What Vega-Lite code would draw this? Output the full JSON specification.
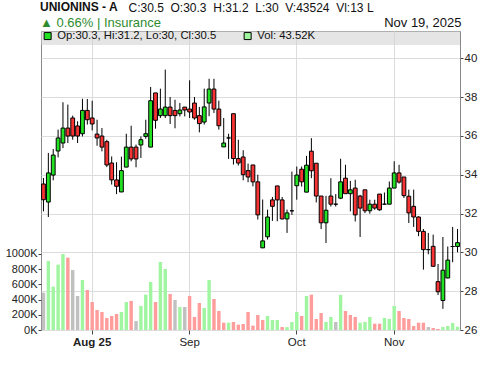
{
  "$schema": "https://vega.github.io/schema/vega-lite/v6.json",
  "width": 419,
  "height": 299,
  "autosize": "none",
  "padding": {"left": 41, "top": 31, "right": 40, "bottom": 36},
  "background": "white",
  "config": {
    "font": "Liberation Sans",
    "view": {"stroke": "#888", "strokeWidth": 1},
    "axis": {"labelFont": "Liberation Sans", "labelFontSize": 11, "labelColor": "#222", "gridColor": "#dcdcdc", "gridWidth": 1, "tickColor": "#444", "tickSize": 3, "domain": false, "titleFont": "Liberation Sans"}
  },
  "title": {
    "text": "UNIONINS - A",
    "subtitle": "▲ 0.66% | Insurance",
    "anchor": "start",
    "frame": "group",
    "orient": "top",
    "offset": 4,
    "dx": -1,
    "dy": 34,
    "font": "Liberation Sans",
    "fontSize": 12,
    "fontWeight": "bold",
    "color": "#111",
    "subtitleFont": "Liberation Sans",
    "subtitleFontSize": 13,
    "subtitleColor": "#2e8b2e",
    "subtitlePadding": 3
  },
  "data": {"values": [
    {"d": "2025-07-18", "o": 33.52, "h": 33.83, "l": 32.11, "c": 32.71, "v": 491000, "dir": "flat"},
    {"d": "2025-07-21", "o": 32.59, "h": 35.12, "l": 31.82, "c": 34.09, "v": 908000, "dir": "up"},
    {"d": "2025-07-22", "o": 33.98, "h": 35.32, "l": 33.71, "c": 35.01, "v": 570000, "dir": "up"},
    {"d": "2025-07-23", "o": 35.22, "h": 36.32, "l": 34.89, "c": 35.89, "v": 860000, "dir": "up"},
    {"d": "2025-07-24", "o": 35.63, "h": 37.73, "l": 35.37, "c": 36.40, "v": 1000000, "dir": "up"},
    {"d": "2025-07-25", "o": 36.40, "h": 37.61, "l": 35.63, "c": 35.99, "v": 952000, "dir": "down"},
    {"d": "2025-07-28", "o": 36.92, "h": 37.04, "l": 35.80, "c": 35.99, "v": 789000, "dir": "flat"},
    {"d": "2025-07-29", "o": 36.51, "h": 36.75, "l": 35.63, "c": 35.99, "v": 447000, "dir": "flat"},
    {"d": "2025-07-30", "o": 36.11, "h": 37.91, "l": 35.97, "c": 37.31, "v": 658000, "dir": "up"},
    {"d": "2025-07-31", "o": 37.31, "h": 37.90, "l": 36.58, "c": 36.83, "v": 526000, "dir": "down"},
    {"d": "2025-08-01", "o": 36.92, "h": 37.81, "l": 36.28, "c": 36.61, "v": 368000, "dir": "down"},
    {"d": "2025-08-04", "o": 36.09, "h": 36.83, "l": 35.49, "c": 35.89, "v": 263000, "dir": "down"},
    {"d": "2025-08-05", "o": 35.99, "h": 36.40, "l": 35.20, "c": 35.42, "v": 237000, "dir": "down"},
    {"d": "2025-08-06", "o": 35.70, "h": 35.80, "l": 34.39, "c": 34.50, "v": 158000, "dir": "down"},
    {"d": "2025-08-07", "o": 34.60, "h": 34.94, "l": 33.49, "c": 33.73, "v": 184000, "dir": "down"},
    {"d": "2025-08-08", "o": 33.73, "h": 34.64, "l": 33.00, "c": 33.40, "v": 211000, "dir": "down"},
    {"d": "2025-08-11", "o": 33.11, "h": 34.93, "l": 33.11, "c": 34.21, "v": 237000, "dir": "up"},
    {"d": "2025-08-12", "o": 34.39, "h": 36.11, "l": 34.39, "c": 35.42, "v": 368000, "dir": "up"},
    {"d": "2025-08-13", "o": 35.42, "h": 36.52, "l": 34.69, "c": 34.81, "v": 382000, "dir": "down"},
    {"d": "2025-08-14", "o": 35.42, "h": 35.55, "l": 34.38, "c": 34.81, "v": 118000, "dir": "flat"},
    {"d": "2025-08-18", "o": 35.53, "h": 35.97, "l": 34.86, "c": 35.80, "v": 316000, "dir": "up"},
    {"d": "2025-08-19", "o": 35.97, "h": 36.83, "l": 35.85, "c": 36.11, "v": 465000, "dir": "up"},
    {"d": "2025-08-20", "o": 35.42, "h": 38.52, "l": 35.42, "c": 37.81, "v": 632000, "dir": "up"},
    {"d": "2025-08-21", "o": 38.21, "h": 38.21, "l": 36.37, "c": 36.80, "v": 368000, "dir": "down"},
    {"d": "2025-08-22", "o": 37.04, "h": 38.43, "l": 36.92, "c": 37.38, "v": 895000, "dir": "up"},
    {"d": "2025-08-25", "o": 37.04, "h": 39.41, "l": 36.92, "c": 37.48, "v": 803000, "dir": "up"},
    {"d": "2025-08-26", "o": 37.48, "h": 38.00, "l": 36.61, "c": 37.04, "v": 474000, "dir": "down"},
    {"d": "2025-08-27", "o": 37.31, "h": 37.86, "l": 36.39, "c": 37.04, "v": 395000, "dir": "flat"},
    {"d": "2025-08-28", "o": 37.14, "h": 37.69, "l": 37.00, "c": 37.33, "v": 303000, "dir": "up"},
    {"d": "2025-08-29", "o": 37.48, "h": 37.48, "l": 37.00, "c": 37.33, "v": 303000, "dir": "flat"},
    {"d": "2025-09-01", "o": 37.38, "h": 38.86, "l": 36.92, "c": 37.23, "v": 447000, "dir": "down"},
    {"d": "2025-09-02", "o": 37.69, "h": 38.00, "l": 36.83, "c": 36.92, "v": 171000, "dir": "down"},
    {"d": "2025-09-03", "o": 37.04, "h": 37.49, "l": 36.18, "c": 36.63, "v": 355000, "dir": "down"},
    {"d": "2025-09-04", "o": 36.71, "h": 38.43, "l": 36.58, "c": 37.49, "v": 289000, "dir": "up"},
    {"d": "2025-09-05", "o": 37.69, "h": 38.94, "l": 37.01, "c": 38.41, "v": 658000, "dir": "up"},
    {"d": "2025-09-08", "o": 38.41, "h": 38.94, "l": 37.18, "c": 37.38, "v": 408000, "dir": "down"},
    {"d": "2025-09-09", "o": 37.38, "h": 37.81, "l": 36.32, "c": 36.52, "v": 250000, "dir": "down"},
    {"d": "2025-09-10", "o": 35.43, "h": 36.92, "l": 35.43, "c": 35.63, "v": 96000, "dir": "down"},
    {"d": "2025-09-11", "o": 35.89, "h": 36.11, "l": 34.81, "c": 35.89, "v": 96000, "dir": "up"},
    {"d": "2025-09-12", "o": 37.14, "h": 37.14, "l": 34.52, "c": 34.83, "v": 105000, "dir": "down"},
    {"d": "2025-09-15", "o": 34.83, "h": 35.80, "l": 34.47, "c": 34.60, "v": 70000, "dir": "down"},
    {"d": "2025-09-16", "o": 34.91, "h": 35.26, "l": 33.71, "c": 34.00, "v": 79000, "dir": "down"},
    {"d": "2025-09-17", "o": 34.21, "h": 34.57, "l": 33.61, "c": 33.88, "v": 237000, "dir": "down"},
    {"d": "2025-09-18", "o": 34.50, "h": 34.50, "l": 33.40, "c": 33.63, "v": 57000, "dir": "down"},
    {"d": "2025-09-19", "o": 33.63, "h": 34.00, "l": 31.69, "c": 31.93, "v": 197000, "dir": "down"},
    {"d": "2025-09-22", "o": 30.23, "h": 32.72, "l": 30.23, "c": 30.59, "v": 132000, "dir": "down"},
    {"d": "2025-09-23", "o": 30.80, "h": 32.20, "l": 30.66, "c": 31.82, "v": 184000, "dir": "up"},
    {"d": "2025-09-24", "o": 32.70, "h": 32.85, "l": 31.62, "c": 32.37, "v": 132000, "dir": "up"},
    {"d": "2025-09-25", "o": 33.42, "h": 33.42, "l": 31.60, "c": 32.70, "v": 132000, "dir": "up"},
    {"d": "2025-09-26", "o": 32.70, "h": 32.85, "l": 31.70, "c": 31.72, "v": 39000, "dir": "down"},
    {"d": "2025-09-29", "o": 31.72, "h": 32.20, "l": 31.00, "c": 32.03, "v": 39000, "dir": "up"},
    {"d": "2025-09-30", "o": 32.14, "h": 34.16, "l": 31.93, "c": 32.14, "v": 105000, "dir": "up"},
    {"d": "2025-10-01", "o": 33.43, "h": 34.42, "l": 32.71, "c": 33.98, "v": 237000, "dir": "up"},
    {"d": "2025-10-03", "o": 34.28, "h": 34.42, "l": 33.39, "c": 33.63, "v": 184000, "dir": "down"},
    {"d": "2025-10-06", "o": 33.10, "h": 34.97, "l": 33.10, "c": 34.49, "v": 447000, "dir": "up"},
    {"d": "2025-10-07", "o": 35.21, "h": 35.88, "l": 33.82, "c": 34.20, "v": 465000, "dir": "down"},
    {"d": "2025-10-08", "o": 34.59, "h": 34.59, "l": 32.57, "c": 32.90, "v": 145000, "dir": "down"},
    {"d": "2025-10-09", "o": 32.90, "h": 32.90, "l": 31.20, "c": 31.52, "v": 224000, "dir": "down"},
    {"d": "2025-10-10", "o": 31.52, "h": 32.91, "l": 30.48, "c": 32.17, "v": 105000, "dir": "up"},
    {"d": "2025-10-13", "o": 32.90, "h": 33.82, "l": 32.36, "c": 32.48, "v": 171000, "dir": "up"},
    {"d": "2025-10-14", "o": 32.48, "h": 33.00, "l": 32.36, "c": 32.48, "v": 105000, "dir": "flat"},
    {"d": "2025-10-15", "o": 32.79, "h": 34.82, "l": 32.74, "c": 33.63, "v": 461000, "dir": "up"},
    {"d": "2025-10-16", "o": 33.82, "h": 34.51, "l": 33.02, "c": 33.02, "v": 250000, "dir": "down"},
    {"d": "2025-10-17", "o": 33.02, "h": 33.68, "l": 32.11, "c": 33.22, "v": 197000, "dir": "down"},
    {"d": "2025-10-20", "o": 33.31, "h": 33.74, "l": 31.59, "c": 31.93, "v": 171000, "dir": "down"},
    {"d": "2025-10-23", "o": 32.90, "h": 32.96, "l": 30.79, "c": 32.28, "v": 96000, "dir": "up"},
    {"d": "2025-10-24", "o": 33.22, "h": 33.22, "l": 32.02, "c": 32.14, "v": 105000, "dir": "up"},
    {"d": "2025-10-27", "o": 32.14, "h": 32.71, "l": 31.99, "c": 32.48, "v": 171000, "dir": "up"},
    {"d": "2025-10-28", "o": 32.48, "h": 32.71, "l": 32.19, "c": 32.28, "v": 83000, "dir": "down"},
    {"d": "2025-10-29", "o": 33.00, "h": 33.00, "l": 32.14, "c": 32.19, "v": 83000, "dir": "down"},
    {"d": "2025-10-30", "o": 32.48, "h": 33.08, "l": 32.48, "c": 32.48, "v": 158000, "dir": "up"},
    {"d": "2025-10-31", "o": 32.48, "h": 33.65, "l": 32.48, "c": 33.31, "v": 145000, "dir": "up"},
    {"d": "2025-11-01", "o": 33.31, "h": 34.69, "l": 33.31, "c": 34.09, "v": 316000, "dir": "up"},
    {"d": "2025-11-03", "o": 34.09, "h": 34.51, "l": 33.54, "c": 33.62, "v": 250000, "dir": "down"},
    {"d": "2025-11-04", "o": 33.88, "h": 33.88, "l": 32.80, "c": 32.92, "v": 158000, "dir": "down"},
    {"d": "2025-11-05", "o": 32.89, "h": 33.23, "l": 31.51, "c": 32.03, "v": 145000, "dir": "down"},
    {"d": "2025-11-06", "o": 32.37, "h": 33.23, "l": 31.31, "c": 31.82, "v": 53000, "dir": "down"},
    {"d": "2025-11-07", "o": 31.82, "h": 31.86, "l": 30.83, "c": 31.08, "v": 96000, "dir": "down"},
    {"d": "2025-11-10", "o": 31.08, "h": 31.20, "l": 29.11, "c": 30.14, "v": 96000, "dir": "down"},
    {"d": "2025-11-11", "o": 30.14, "h": 31.00, "l": 29.90, "c": 30.14, "v": 39000, "dir": "flat"},
    {"d": "2025-11-12", "o": 30.31, "h": 30.91, "l": 29.28, "c": 29.28, "v": 26000, "dir": "down"},
    {"d": "2025-11-13", "o": 28.49, "h": 29.40, "l": 27.80, "c": 27.97, "v": 13000, "dir": "down"},
    {"d": "2025-11-14", "o": 27.52, "h": 30.79, "l": 27.09, "c": 29.08, "v": 39000, "dir": "up"},
    {"d": "2025-11-17", "o": 28.68, "h": 30.30, "l": 28.66, "c": 29.60, "v": 53000, "dir": "up"},
    {"d": "2025-11-18", "o": 30.30, "h": 31.31, "l": 29.49, "c": 30.30, "v": 92000, "dir": "up"},
    {"d": "2025-11-19", "o": 30.30, "h": 31.20, "l": 30.00, "c": 30.50, "v": 43524, "dir": "up"}
  ]},
  "layer": [
    {
      "mark": {"type": "bar"},
      "encoding": {
        "x": {
          "field": "d", "type": "ordinal", "title": null,
          "scale": {"paddingInner": 0.3, "paddingOuter": 0.16},
          "axis": {
            "values": ["2025-08-01", "2025-09-01", "2025-10-01", "2025-11-01"],
            "labelExpr": "datum.value == '2025-08-01' ? 'Aug 25' : datum.value == '2025-09-01' ? 'Sep' : datum.value == '2025-10-01' ? 'Oct' : 'Nov'",
            "labelFontWeight": {"condition": {"test": "datum.value == '2025-08-01'", "value": "bold"}, "value": "normal"},
            "labelAngle": 0,
            "grid": true,
            "bandPosition": 0.5,
            "tickSize": 4,
            "labelPadding": 2,
            "labelFontSize": 11.5
          }
        },
        "y": {
          "field": "v", "type": "quantitative",
          "scale": {"domain": [0, 3934000], "nice": false},
          "axis": {
            "orient": "left",
            "values": [0, 200000, 400000, 600000, 800000, 1000000],
            "labelExpr": "format(datum.value / 1000, 'd') + 'K'",
            "grid": false,
            "tickSize": 3,
            "labelPadding": 1,
            "title": "C:30.5\u00a0\u00a0O:30.3\u00a0\u00a0H:31.2\u00a0\u00a0L:30\u00a0\u00a0V:43524\u00a0\u00a0Vl:13 L",
            "titleAngle": 0,
            "titleAlign": "left",
            "titleBaseline": "alphabetic",
            "titleX": 87,
            "titleY": -20,
            "titleFontSize": 12,
            "titleFontWeight": "normal",
            "titleColor": "#111"
          }
        },
        "color": {
          "field": "dir", "type": "nominal",
          "scale": {"domain": ["up", "down", "flat"], "range": ["#a0f5a0", "#ff9c9c", "#c0c0c0"]},
          "legend": null
        }
      }
    },
    {
      "layer": [
        {
          "data": {"values": [{"band": "legend"}]},
          "mark": {"type": "rect", "color": "#cfcfcf", "opacity": 0.55},
          "encoding": {
            "y": {"datum": 41.4, "type": "quantitative", "title": "Nov 19, 2025"},
            "y2": {"datum": 40.68}
          }
        },
        {
          "mark": {"type": "rule", "color": "#000", "strokeWidth": 1},
          "encoding": {
            "x": {"field": "d", "type": "ordinal", "title": null},
            "y": {
              "field": "l", "type": "quantitative", "title": "Nov 19, 2025",
              "scale": {"domain": [26, 41.4], "nice": false, "zero": false},
              "axis": {
                "orient": "right",
                "values": [26, 28, 30, 32, 34, 36, 38, 40],
                "grid": true,
                "tickSize": 3,
                "labelPadding": 1,
                "labelFontSize": 11.5,
                "titleAngle": 0,
                "titleAlign": "right",
                "titleBaseline": "alphabetic",
                "titleX": 1,
                "titleY": -5,
                "titleFontSize": 13,
                "titleFontWeight": "normal",
                "titleColor": "#111"
              }
            },
            "y2": {"field": "h"}
          }
        },
        {
          "mark": {"type": "bar", "width": 3.8, "stroke": "#000", "strokeWidth": 1},
          "encoding": {
            "x": {"field": "d", "type": "ordinal", "title": null},
            "y": {"field": "o", "type": "quantitative", "title": "Nov 19, 2025"},
            "y2": {"field": "c"},
            "fill": {"condition": {"test": "datum.c > datum.o", "value": "#22e022"}, "value": "#f83333"}
          }
        },
        {
          "data": {"values": [{"k": "Op:30.3, Hi:31.2, Lo:30, Cl:30.5"}, {"k": "Vol: 43.52K"}]},
          "transform": [{"filter": "false"}],
          "mark": {"type": "square", "opacity": 1, "filled": true},
          "encoding": {
            "fill": {
              "field": "k", "type": "nominal",
              "scale": {"domain": ["Op:30.3, Hi:31.2, Lo:30, Cl:30.5", "Vol: 43.52K"], "range": ["#22e022", "#a0f5a0"]},
              "legend": {
                "orient": "none",
                "legendX": 1,
                "legendY": -1,
                "direction": "horizontal",
                "title": null,
                "symbolType": "square",
                "symbolSize": 49,
                "symbolStrokeColor": "#000",
                "symbolStrokeWidth": 1,
                "symbolOpacity": 1,
                "labelFont": "Liberation Sans",
                "labelFontSize": 11.3,
                "labelColor": "#111",
                "labelOffset": 4,
                "columnPadding": 25,
                "padding": 0
              }
            }
          }
        }
      ]
    }
  ],
  "resolve": {"scale": {"y": "independent"}}
}
